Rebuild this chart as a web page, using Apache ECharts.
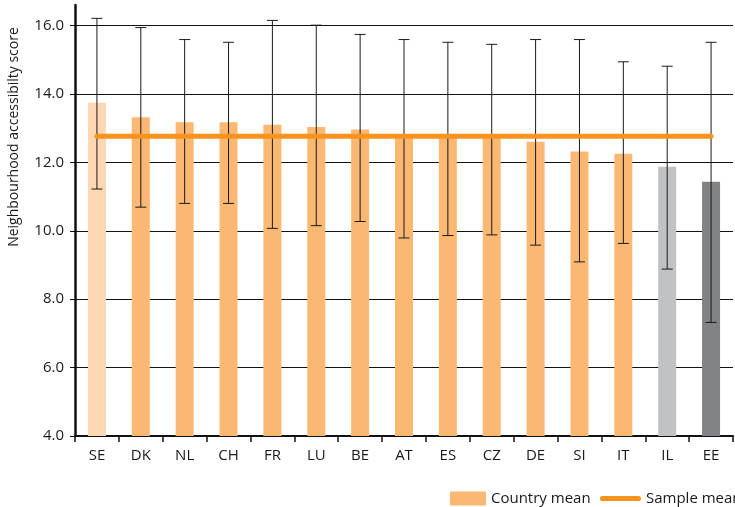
<!DOCTYPE html>
<html>
<head>
<meta charset="utf-8">
<script src="https://cdn.jsdelivr.net/npm/echarts@6/dist/echarts.min.js"></script>
<style>
  html, body { margin: 0; padding: 0; background: #fff; }
  #chart { width: 735px; height: 507px; }
</style>
</head>
<body>
<div id="chart"></div>
<script>
const countries = ['SE', 'DK', 'NL', 'CH', 'FR', 'LU', 'BE', 'AT', 'ES', 'CZ', 'DE', 'SI', 'IT', 'IL', 'EE']
const countryMean = [13.74, 13.32, 13.17, 13.17, 13.10, 13.03, 12.96, 12.78, 12.76, 12.75, 12.60, 12.32, 12.25, 11.87, 11.43]
const errLow = [11.22, 10.69, 10.80, 10.80, 10.07, 10.15, 10.27, 9.79, 9.86, 9.88, 9.58, 9.09, 9.63, 8.88, 7.32]
const errHigh = [16.21, 15.94, 15.59, 15.51, 16.15, 16.01, 15.74, 15.59, 15.51, 15.45, 15.59, 15.59, 14.94, 14.81, 15.51]
const sampleMean = [12.76, 12.76, 12.76, 12.76, 12.76, 12.76, 12.76, 12.76, 12.76, 12.76, 12.76, 12.76, 12.76, 12.76, 12.76]
const yTicks = [6, 8, 10, 12, 14, 16]

const ORANGE = '#fbb873'
const LINE_ORANGE = '#f7931e'
const barColors = { SE: '#fed8b3', IL: '#c1c2c4', EE: '#818285' }
const FONT = '"Open Sans", "Noto Sans", sans-serif'

const chart = echarts.init(document.getElementById('chart'))

const legendText = { fontSize: 15, color: '#1a1a1a', fontFamily: FONT }

const option = {
  animation: false,
  textStyle: { fontFamily: FONT, color: '#1a1a1a' },
  grid: { left: 75, right: 2, top: 5, bottom: 71 },
  xAxis: {
    type: 'category',
    data: countries,
    boundaryGap: true,
    axisLine: { lineStyle: { color: '#111', width: 2 } },
    axisTick: { show: true, length: 6, lineStyle: { color: '#111', width: 1.5 } },
    axisLabel: { color: '#1a1a1a', fontSize: 15, margin: 12, fontFamily: FONT },
  },
  yAxis: {
    type: 'value',
    min: 4,
    max: 16.6,
    interval: 2,
    axisLine: { show: true, lineStyle: { color: '#111', width: 2.5 } },
    axisTick: { show: true, length: 5, lineStyle: { color: '#111', width: 1 } },
    splitLine: { show: false },
    axisLabel: {
      color: '#1a1a1a',
      fontSize: 15,
      margin: 11,
      fontFamily: FONT,
      showMaxLabel: false,
      formatter: (v) => (v % 2 === 0 ? v.toFixed(1) : ''),
    },
  },
  legend: [
    {
      left: 445,
      top: 486,
      itemWidth: 36,
      itemHeight: 14,
      textStyle: legendText,
      data: [{ name: 'Country mean', icon: 'rect' }],
    },
    {
      left: 595,
      top: 486,
      itemWidth: 41,
      itemHeight: 14,
      textStyle: legendText,
      data: [{
        name: 'Sample mean',
        icon: 'path://M2.5,0 H37.5 A2.5,2.5 0 0 1 37.5,5 H2.5 A2.5,2.5 0 0 1 2.5,0 Z',
        itemStyle: { color: LINE_ORANGE },
      }],
    },
  ],
  graphic: [
    {
      type: 'text',
      x: 14,
      y: 137,
      rotation: Math.PI / 2,
      style: {
        text: 'Neighbourhood accessibilty score',
        fontSize: 14,
        fontFamily: FONT,
        fill: '#1a1a1a',
        align: 'center',
        verticalAlign: 'middle',
      },
    },
  ],
  series: [
    {
      name: 'Country mean',
      type: 'bar',
      barWidth: 18,
      z: 2,
      itemStyle: { color: ORANGE },
      data: countries.map((c, i) => ({
        value: countryMean[i],
        itemStyle: barColors[c] ? { color: barColors[c] } : undefined,
      })),
      markLine: {
        silent: true,
        symbol: 'none',
        z: 1,
        label: { show: false },
        lineStyle: { color: '#111', width: 1, type: 'solid' },
        data: yTicks.map((v) => ({ yAxis: v })),
      },
    },
    {
      name: 'error',
      type: 'custom',
      z: 3,
      data: countries.map((c, i) => [i, errLow[i], errHigh[i]]),
      renderItem: (params, api) => {
        const lo = api.coord([api.value(0), api.value(1)])
        const hi = api.coord([api.value(0), api.value(2)])
        const half = 5.5
        const style = { stroke: '#1a1a1a', lineWidth: 1 }
        return {
          type: 'group',
          children: [
            { type: 'line', shape: { x1: lo[0], y1: lo[1], x2: hi[0], y2: hi[1] }, style },
            { type: 'line', shape: { x1: hi[0] - half, y1: hi[1], x2: hi[0] + half, y2: hi[1] }, style },
            { type: 'line', shape: { x1: lo[0] - half, y1: lo[1], x2: lo[0] + half, y2: lo[1] }, style },
          ],
        }
      },
    },
    {
      name: 'Sample mean',
      type: 'line',
      z: 4,
      symbol: 'none',
      data: sampleMean,
      itemStyle: { color: LINE_ORANGE },
      lineStyle: { color: LINE_ORANGE, width: 5, cap: 'round' },
    },
  ],
}

chart.setOption(option)
</script>
</body>
</html>
